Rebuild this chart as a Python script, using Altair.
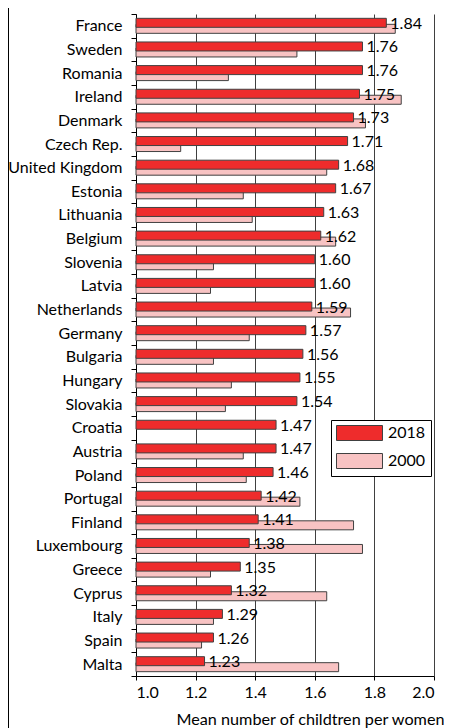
import altair as alt
import pandas as pd

countries = ["France", "Sweden", "Romania", "Ireland", "Denmark", "Czech Rep.",
             "United Kingdom", "Estonia", "Lithuania", "Belgium", "Slovenia",
             "Latvia", "Netherlands", "Germany", "Bulgaria", "Hungary", "Slovakia",
             "Croatia", "Austria", "Poland", "Portugal", "Finland", "Luxembourg",
             "Greece", "Cyprus", "Italy", "Spain", "Malta"]
v2018 = [1.84, 1.76, 1.76, 1.75, 1.73, 1.71, 1.68, 1.67, 1.63, 1.62, 1.60, 1.60,
         1.59, 1.57, 1.56, 1.55, 1.54, 1.47, 1.47, 1.46, 1.42, 1.41, 1.38, 1.35,
         1.32, 1.29, 1.26, 1.23]
v2000 = [1.87, 1.54, 1.31, 1.89, 1.77, 1.15, 1.64, 1.36, 1.39, 1.67, 1.26, 1.25,
         1.72, 1.38, 1.26, 1.32, 1.30, None, 1.36, 1.37, 1.55, 1.73, 1.76, 1.25,
         1.64, 1.26, 1.22, 1.68]
years = ["2018", "2000"]
x_ticks = [1.0, 1.2, 1.4, 1.6, 1.8, 2.0]
x_min, x_max = 1.0, 2.0

RED = "#EE2C2C"
PINK = "#F8C3C3"
FONT = "Lato"

df = pd.DataFrame({
    "country": countries * 2,
    "year": ["2018"] * len(countries) + ["2000"] * len(countries),
    "value": v2018 + v2000,
})
df["base"] = x_min
df18 = df[df["year"] == "2018"].copy()
df18["label"] = df18["value"].map(lambda v: f"{v:.2f}")

# wide legend swatch: 46 x 15 px with symbolSize 225 (unit = 7.5 px)
legend_path = "M-1,-1H5.133V1H-1Z"

y_enc = alt.Y("country:N", sort=countries,
              scale=alt.Scale(paddingInner=0, paddingOuter=0),
              axis=alt.Axis(title=None, tickBand="extent", tickSize=5, labelPadding=9,
                            labelFontSize=16, labelFont=FONT, labelColor="black",
                            domainColor="black", tickColor="black", grid=False,
                            labelLimit=0))
x_scale = alt.Scale(domain=[x_min, x_max], nice=False, zero=False, clamp=True)
x_axis = alt.Axis(values=x_ticks, format=".1f", grid=True, gridColor="#404040",
                  domainColor="black", tickColor="black", tickSize=4,
                  labelFontSize=16, labelFont=FONT, labelColor="black", labelPadding=4,
                  title="Mean number of childtren per women", titleFont=FONT,
                  titleFontSize=16.2, titleFontWeight="normal", titleColor="black",
                  titleAlign="right", titleX=308, titleY=48, titleBaseline="alphabetic")
color_enc = alt.Color("year:N",
                      scale=alt.Scale(domain=years, range=[RED, PINK]),
                      legend=alt.Legend(title=None, orient="none", legendX=195, legendY=406,
                                        symbolType=legend_path, symbolSize=225,
                                        symbolStrokeColor="#404040", symbolStrokeWidth=1,
                                        labelFontSize=16, labelFont=FONT, labelColor="black",
                                        labelOffset=36, strokeColor="black", fillColor="white",
                                        padding=5, rowPadding=8))

base = alt.Chart(df)

bars2000 = base.transform_filter(alt.datum.year == "2000").mark_bar(
    height=9, yOffset=3, stroke="#404040", strokeWidth=1
).encode(y=y_enc, x=alt.X("value:Q", scale=x_scale, axis=x_axis),
         x2="base:Q", color=color_enc)

bars2018 = base.transform_filter(alt.datum.year == "2018").mark_bar(
    height=9, yOffset=-3, stroke="#404040", strokeWidth=1
).encode(y=y_enc, x=alt.X("value:Q", scale=x_scale, axis=x_axis),
         x2="base:Q", color=color_enc)

labels = alt.Chart(df18).mark_text(
    align="left", baseline="middle", dx=4, yOffset=-2, font=FONT, fontSize=16,
    color="black"
).encode(y=y_enc, x=alt.X("value:Q", scale=x_scale), text="label:N")

frame = alt.Chart(pd.DataFrame({"a": [0]})).mark_rule(
    color="black", strokeWidth=1
).encode(x=alt.value(-127.5), y=alt.value(-6), y2=alt.value(714))

chart = alt.layer(bars2000, bars2018, labels, frame).properties(
    width=298, height=662,
    autosize=alt.AutoSizeParams(type="none"),
    padding={"left": 128, "top": 6, "right": 10, "bottom": 52},
).configure_view(stroke=None)

chart.save("out.html", embed_options={"renderer": "svg", "actions": False})
